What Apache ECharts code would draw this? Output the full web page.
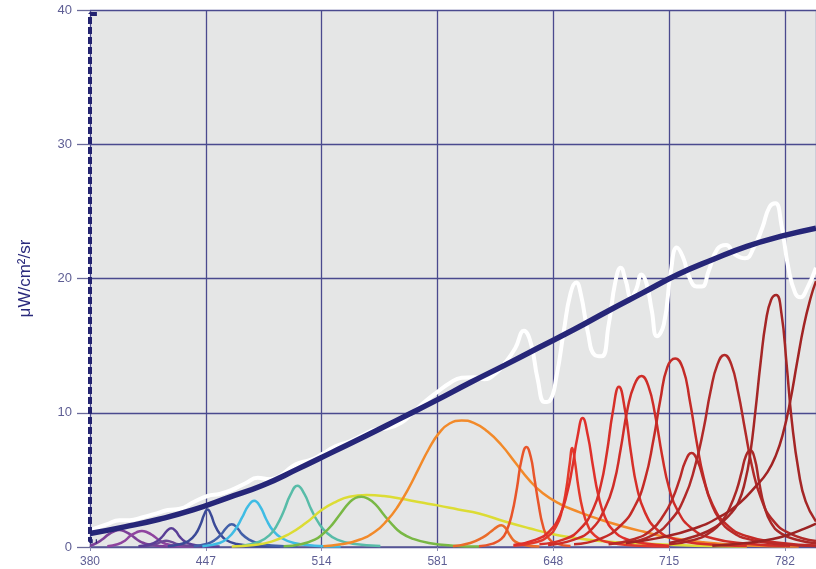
<!DOCTYPE html>
<html>
<head>
<meta charset="utf-8">
<script src="https://cdn.jsdelivr.net/npm/echarts@6/dist/echarts.min.js"></script>
<style>
html, body { margin: 0; padding: 0; background: #ffffff; }
#chart { width: 816px; height: 569px; }
</style>
</head>
<body>
<div id="chart"></div>
<script>
// Wavelength axis (nm) starts here; the axis itself counts nm from this origin.
const WL_START = 380;
const WL_END = 800;
const WL_STEP = 67;
const radianceTicks = [0, 10, 20, 30, 40];

// Smooth reference radiance curve, [wavelength nm, µW/cm²/sr]
const referenceCurve = [[380,1.0],[400,1.5],[420,2.07],[440,2.78],[460,3.68],[480,4.6],[500,5.8],[520,7.05],[540,8.3],[560,9.6],[580,10.9],[600,12.25],[620,13.55],[640,14.88],[660,16.2],[680,17.6],[700,18.95],[720,20.3],[740,21.4],[760,22.4],[780,23.15],[800,23.75]];

// Combined output of all channels
const combinedOutput = [[380,1.25],[390,1.7],[397,2.0],[403,2.0],[410,2.2],[417,2.45],[425,2.75],[432,2.85],[440,3.35],[448,3.8],[455,3.95],[462,4.25],[470,4.75],[477,5.15],[484,5.05],[490,5.3],[497,6.0],[502,6.3],[508,6.5],[514,6.9],[522,7.5],[530,7.85],[538,8.35],[545,8.75],[552,8.85],[560,9.25],[567,10.05],[574,10.85],[581,11.55],[588,12.2],[595,12.6],[602,12.65],[608,12.5],[614,12.85],[620,13.7],[626,14.8],[631,16.1],[635,15.2],[639,12.5],[643,10.8],[646,10.9],[650,12.8],[654,16.0],[658,18.9],[661.3,19.7],[664,18.8],[668,16.0],[672,14.3],[676,14.2],[680,16.5],[684,19.8],[687,20.8],[690,19.8],[693,18.6],[696,19.2],[699,20.3],[702,19.6],[705,17.6],[708,15.7],[712,16.6],[716,20.5],[719.5,22.3],[723,21.6],[727,20.0],[731,19.4],[734,19.4],[738,20.6],[743,22.2],[748,22.5],[753,21.8],[759,21.5],[764,22.3],[769,23.8],[773,25.3],[776.5,25.6],[780,24.0],[784,20.8],[788,18.9],[791,18.6],[795,19.3],[800,20.8]];

// Individual LED channel spectra
const ch397 = [[380,0.08],[384,0.3],[387,0.55],[390.5,0.92],[394,1.17],[397,1.27],[400,1.17],[403.5,0.92],[407,0.58],[410,0.35],[414,0.18],[420,0.08],[430,0.03]];
const ch410 = [[390,0.05],[396,0.2],[400,0.45],[403.5,0.85],[407,1.1],[410,1.2],[413,1.1],[416.5,0.85],[420,0.5],[424,0.22],[430,0.08],[440,0.03]];
const ch424 = [[410,0.03],[417,0.18],[421,0.36],[424,0.46],[427,0.38],[431,0.2],[438,0.08],[450,0.02]];
const ch427 = [[408,0.05],[415,0.2],[419,0.45],[422,0.8],[424.5,1.2],[427,1.4],[429.5,1.2],[432,0.75],[435,0.4],[439,0.18],[445,0.08],[455,0.03]];
const ch448 = [[425,0.05],[432,0.2],[437,0.45],[441,0.95],[444,1.7],[446,2.4],[448,2.8],[450,2.4],[452,1.7],[455,1.0],[459,0.5],[465,0.22],[475,0.08],[490,0.02]];
const ch462 = [[440,0.05],[448,0.25],[452,0.5],[456,0.95],[459,1.45],[462,1.7],[465,1.45],[468,0.95],[472,0.55],[477,0.28],[485,0.12],[500,0.03]];
const ch475 = [[445,0.06],[455,0.3],[460,0.7],[464,1.3],[468,2.2],[471.5,3.05],[475,3.45],[478.5,3.0],[482,2.05],[486,1.2],[491,0.65],[498,0.3],[510,0.1],[525,0.03]];
const ch500 = [[468,0.1],[478,0.4],[484,0.9],[488,1.6],[492,2.65],[496,3.9],[500,4.57],[504,3.95],[508,2.8],[512,1.85],[517,1.05],[523,0.55],[532,0.25],[548,0.08]];
const chLime = [[462,0.03],[475,0.15],[485,0.4],[495,0.95],[505,1.8],[514,2.75],[522,3.35],[530,3.75],[540,3.87],[550,3.8],[560,3.6],[570,3.35],[581,3.1],[593,2.8],[605,2.5],[620,1.9],[634,1.4],[648,0.95],[657,0.75],[675,0.45],[700,0.25],[730,0.1],[760,0.04]];
const ch537 = [[492,0.05],[502,0.2],[510,0.55],[515,1.0],[520,1.65],[525,2.5],[530,3.3],[533.5,3.65],[537,3.75],[540.5,3.62],[545,3.2],[550,2.4],[555,1.65],[560,1.05],[567,0.6],[576,0.3],[590,0.1],[605,0.03]];
const ch596 = [[515,0.05],[525,0.2],[535,0.5],[545,1.15],[552,2.0],[558,3.0],[564,4.3],[570,5.8],[576,7.3],[582,8.5],[588,9.2],[595,9.42],[602,9.25],[610,8.6],[618,7.6],[626,6.3],[634,5.0],[642,4.0],[652,3.2],[663,2.6],[675,2.05],[688,1.55],[700,1.15],[715,0.7],[735,0.35],[760,0.12],[790,0.04]];
const ch618 = [[590,0.05],[600,0.3],[607,0.7],[612,1.15],[615.5,1.5],[618,1.62],[620.5,1.4],[623,0.85],[626,0.4],[631,0.15],[640,0.04]];
const ch632 = [[605,0.05],[613,0.25],[618,0.6],[621,1.2],[624,2.4],[627,4.4],[629.5,6.4],[632.5,7.45],[635,6.7],[637,5.2],[639.5,3.2],[642,1.6],[645,0.7],[650,0.25],[658,0.08]];
const ch659 = [[625,0.1],[638,0.35],[645,0.8],[650,1.6],[653,2.7],[655.5,4.3],[657.5,6.2],[659,7.37],[660.5,6.4],[662.5,4.5],[665,2.8],[668,1.6],[672,0.85],[680,0.35],[695,0.12],[715,0.04]];
const ch665 = [[625,0.15],[638,0.55],[646,1.2],[652,2.4],[656,4.0],[659,5.9],[662,8.2],[665,9.6],[668,8.3],[671,6.0],[674,3.9],[678,2.2],[683,1.2],[690,0.6],[700,0.28],[715,0.1]];
const ch686 = [[640,0.2],[655,0.6],[664,1.4],[671,2.8],[675.5,4.6],[679,7.0],[682.5,10.1],[686,11.94],[689.5,10.2],[693,7.0],[696.5,4.4],[701,2.6],[708,1.3],[718,0.6],[735,0.22],[760,0.07]];
const ch699 = [[645,0.15],[660,0.55],[670,1.3],[678,2.9],[683,4.7],[687,7.3],[691,10.3],[695,12.1],[699,12.74],[703,12.0],[707,9.8],[711,6.8],[715,4.4],[720,2.7],[728,1.4],[740,0.65],[760,0.25],[785,0.08]];
const ch718 = [[660,0.2],[675,0.6],[687,1.6],[695,3.0],[701,5.0],[706,8.0],[710,11.0],[714,13.4],[718.5,14.05],[723,13.3],[727,10.9],[731,7.8],[735,5.2],[740,3.2],[748,1.7],[760,0.8],[780,0.3],[800,0.12]];
const ch728 = [[680,0.2],[695,0.6],[705,1.3],[712,2.4],[717,3.6],[721,5.0],[724.5,6.4],[728,7.0],[731.5,6.4],[735,5.0],[739,3.4],[744,2.1],[751,1.15],[762,0.55],[780,0.2],[800,0.08]];
const ch747 = [[690,0.3],[705,0.85],[716,2.0],[724,3.7],[730,6.0],[735,8.8],[739,11.6],[743,13.6],[747,14.3],[751,13.6],[755,11.5],[759,8.7],[763,6.0],[768,3.7],[775,2.0],[785,1.0],[800,0.45]];
const ch762 = [[715,0.2],[730,0.55],[740,1.2],[746,2.0],[750,2.9],[754,4.2],[757,5.6],[759.5,6.8],[762,7.2],[764.5,6.6],[767,4.9],[770,3.1],[774,1.8],[780,1.0],[790,0.5],[800,0.28]];
const ch777 = [[715,0.3],[730,0.8],[742,1.5],[750,2.4],[755,3.3],[759,4.9],[762,7.0],[765,10.2],[768,13.8],[771,16.8],[774,18.4],[777,18.77],[780,17.4],[783,13.6],[786,9.4],[790,5.6],[794,3.4],[800,1.9]];
const ch808 = [[690,0.3],[710,0.7],[730,1.4],[745,2.3],[756,3.3],[765,4.5],[772,5.6],[777,6.9],[781,8.5],[785,10.8],[789,13.7],[793,16.5],[797,18.6],[800,19.8]];
const ch830 = [[740,0.1],[760,0.3],[775,0.6],[785,0.95],[793,1.35],[800,1.75]];

const channels = [ch397, ch410, ch424, ch427, ch448, ch462, ch475, ch500, chLime, ch537, ch596, ch618, ch632, ch659, ch665, ch686, ch699, ch718, ch728, ch747, ch762, ch777, ch808, ch830];
const channelColors = ['#7d3f98', '#8f449f', '#6c4896', '#5a3e96', '#3b4a97', '#4260a8', '#3fbce4', '#58bca8', '#dcdc34', '#79b845', '#f28a2a', '#ea6c2a', '#e8552a', '#e3392b', '#df302b', '#d62f29', '#cf2d28', '#c42b27', '#b92a28', '#b12a29', '#aa2827', '#a52626', '#a22424', '#9b2323'];

// Dashed bracket marking the full radiance range on the left edge
const rangeBracket = [[384, 39.7], [380, 39.7], [380, 0.42], [384, 0.42]];

const toAxis = pts => pts.map(([w, v]) => [w - WL_START, v]);

const series = channels.map((pts, i) => ({
  type: 'line',
  data: toAxis(pts),
  smooth: 0.5,
  showSymbol: false,
  silent: true,
  lineStyle: { color: channelColors[i], width: 2.5 },
  z: 2
}));

series.push({
  type: 'line',
  data: toAxis(combinedOutput),
  smooth: 0.5,
  showSymbol: false,
  silent: true,
  lineStyle: { color: '#ffffff', width: 4 },
  z: 3
});

series.push({
  type: 'line',
  data: toAxis(referenceCurve),
  smooth: 0.5,
  showSymbol: false,
  silent: true,
  lineStyle: { color: '#262678', width: 5.5 },
  z: 4
});

series.push({
  type: 'line',
  data: toAxis(rangeBracket),
  showSymbol: false,
  silent: true,
  clip: false,
  lineStyle: { color: '#222270', width: 4, type: [7, 3] },
  z: 5
});

const chart = echarts.init(document.getElementById('chart'), null, { renderer: 'canvas' });
chart.setOption({
  animation: false,
  backgroundColor: '#ffffff',
  textStyle: { fontFamily: 'Liberation Sans, Arial, sans-serif' },
  grid: { left: 90, top: 10, width: 727, height: 537, show: true, backgroundColor: '#e5e6e6', borderWidth: 0 },
  xAxis: {
    type: 'value',
    min: 0,
    max: WL_END - WL_START,
    interval: WL_STEP,
    axisLine: { show: true, lineStyle: { color: '#5a5a96', width: 1.5 } },
    axisTick: { show: true, length: 4, lineStyle: { color: '#8a8ab0' } },
    axisLabel: { color: '#5e5e94', fontSize: 12, margin: 9, formatter: v => String(v + WL_START), showMaxLabel: false },
    splitLine: { show: true, lineStyle: { color: '#4a4a8e', width: 1.3 } }
  },
  yAxis: {
    type: 'value',
    min: radianceTicks[0],
    max: radianceTicks[radianceTicks.length - 1],
    interval: 10,
    name: 'μW/cm²/sr',
    nameLocation: 'middle',
    nameRotate: 90,
    nameGap: 56,
    nameTextStyle: { color: '#2a2a7c', fontSize: 17 },
    axisLine: { show: false },
    axisTick: { show: true, length: 13, lineStyle: { color: '#6a6a9a', width: 1.3 } },
    axisLabel: { color: '#5e5e94', fontSize: 13, margin: 18 },
    splitLine: { show: true, lineStyle: { color: '#4a4a8e', width: 1.3 } }
  },
  series: series
});
</script>
</body>
</html>
